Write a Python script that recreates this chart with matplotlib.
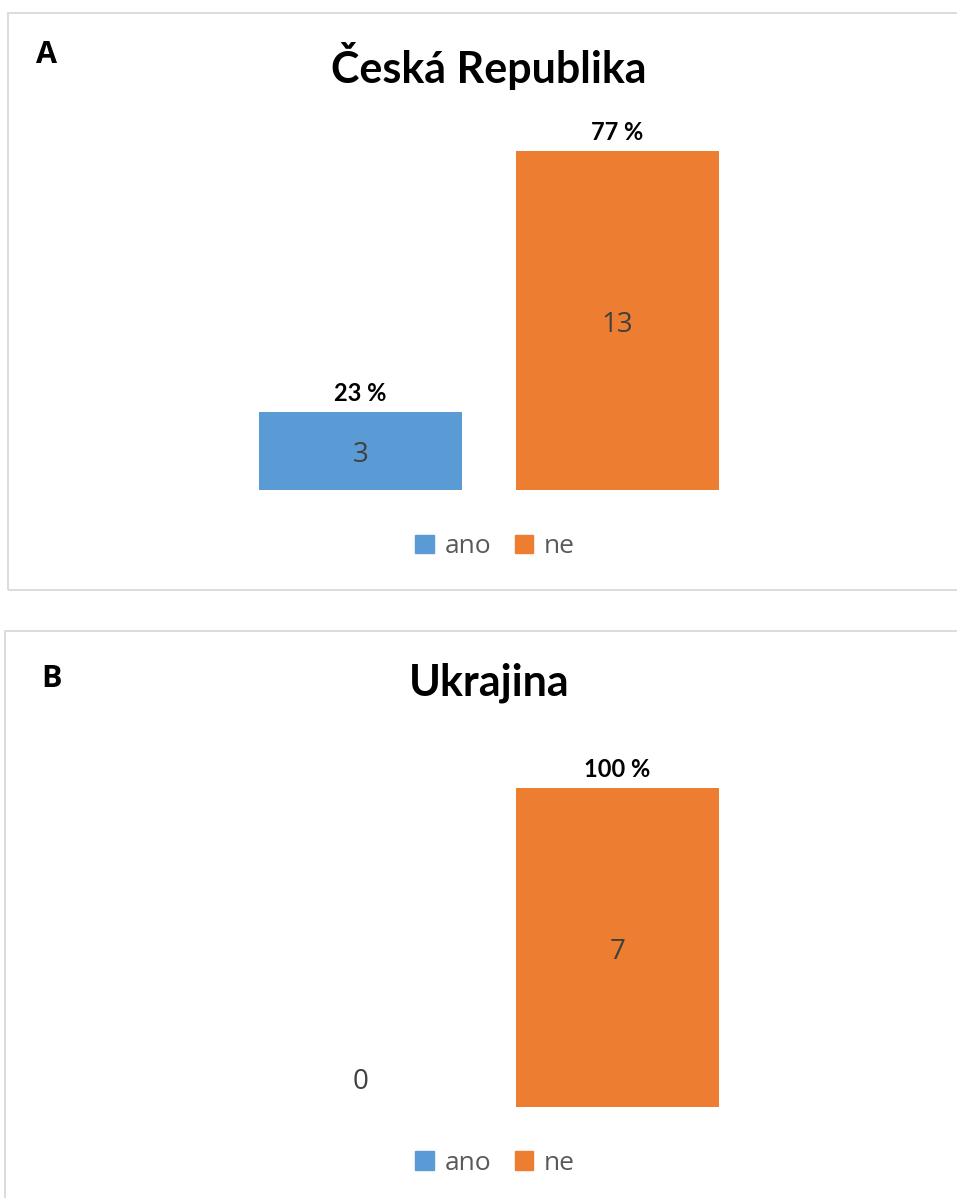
import matplotlib.pyplot as plt
from matplotlib.patches import Rectangle, Patch

categories = ['ano', 'ne']
cz_counts = [3, 13]
cz_pct = ['23 %', '77 %']
ua_counts = [0, 7]
ua_pct = [None, '100 %']
colors = ['#5b9bd5', '#ed7d31']

W, H = 957, 1198
fig = plt.figure(figsize=(W / 100, H / 100), dpi=100)


def px_axes(left, right, top, bottom):
    return fig.add_axes([left / W, 1 - bottom / H, (right - left) / W, (bottom - top) / H])


def panel(letter, title, counts, pcts, frame, ax_box, ylim, title_y, letter_xy, legend_y):
    x0, y0, x1, y1 = frame
    fig.patches.append(Rectangle((x0 / W, 1 - y1 / H), (x1 - x0) / W, (y1 - y0) / H,
                                 transform=fig.transFigure, fill=False,
                                 edgecolor='#d9d9d9', linewidth=1.3))
    ax = px_axes(*ax_box)
    xs = range(len(categories))
    bars = ax.bar(xs, counts, width=0.79, color=colors)
    ax.set_xlim(-0.6, 1.6)
    ax.set_ylim(*ylim)
    ax.axis('off')
    for b, c, p in zip(bars, counts, pcts):
        cx = b.get_x() + b.get_width() / 2
        if c > 0:
            ax.annotate(str(c), (cx, c / 2), xytext=(0, -3), textcoords='offset points',
                        ha='center', va='center', fontsize=20,
                        color='#404040', family='Open Sans')
        else:
            ax.annotate(str(c), (cx, ylim[1] * 0.08), xytext=(0, -3), textcoords='offset points',
                        ha='center', va='center', fontsize=20,
                        color='#404040', family='Open Sans')
        if p:
            ax.annotate(p, (cx, c), xytext=(0, 5), textcoords='offset points',
                        ha='center', va='bottom', fontsize=17, fontweight='bold',
                        family='Lato', color='black')
    fig.text(title_y[0] / W, 1 - title_y[1] / H, title, ha='center', va='center',
             fontsize=31, fontweight='bold', family='Lato')
    fig.text(letter_xy[0] / W, 1 - letter_xy[1] / H, letter, ha='center', va='center',
             fontsize=22, fontweight='bold', family='Open Sans')
    handles = [Patch(color=c, label=l) for c, l in zip(colors, categories)]
    fig.legend(handles=handles, loc='center', bbox_to_anchor=(495 / W, 1 - legend_y / H),
               ncol=2, frameon=False, handlelength=0.7, handleheight=0.7,
               handletextpad=0.4, columnspacing=0.9,
               prop={'family': 'Open Sans', 'size': 19}, labelcolor='#595959')


panel('A', 'Česká Republika', cz_counts, cz_pct,
      (8, 13, 980, 590), (206.3, 771.7, 124.6, 490), (0, 14),
      (489, 66), (46, 55), 547)
panel('B', 'Ukrajina', ua_counts, ua_pct,
      (5, 631, 980, 1230), (206.3, 771.7, 742.2, 1107), (0, 8),
      (489, 683), (52, 679), 1163)

fig.savefig('out.png', dpi=100)
